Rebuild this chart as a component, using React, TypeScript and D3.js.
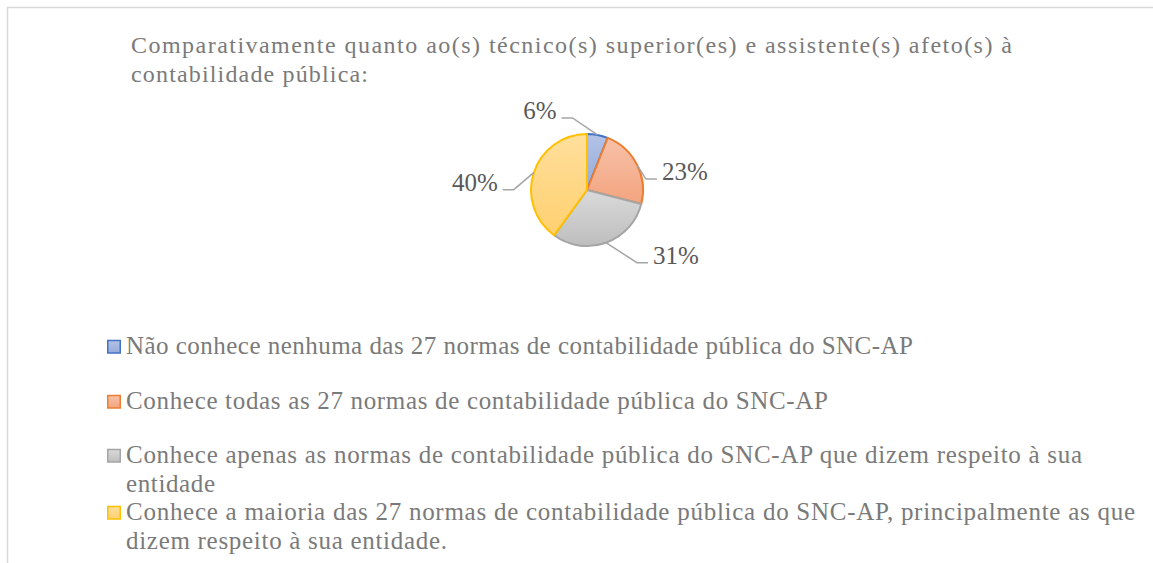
import React from 'react';
import * as d3 from 'd3';

const width = 1153;
const height = 563;

// chart data
const categories = [
  'Não conhece nenhuma das 27 normas de contabilidade pública do SNC-AP',
  'Conhece todas as 27 normas de contabilidade pública do SNC-AP',
  'Conhece apenas as normas de contabilidade pública do SNC-AP que dizem respeito à sua entidade',
  'Conhece a maioria das 27 normas de contabilidade pública do SNC-AP, principalmente as que dizem respeito à sua entidade.',
];
const values = [6, 23, 31, 40];
const titleLines = [
  'Comparativamente quanto ao(s) técnico(s) superior(es) e assistente(s) afeto(s) à',
  'contabilidade pública:',
];
// how the legend entries wrap in the picture
const legendLines = [
  [categories[0]],
  [categories[1]],
  ['Conhece apenas as normas de contabilidade pública do SNC-AP que dizem respeito à sua', 'entidade'],
  ['Conhece a maioria das 27 normas de contabilidade pública do SNC-AP, principalmente as que', 'dizem respeito à sua entidade.'],
];

const strokeColors = ['#4472C4', '#ED7D31', '#A5A5A5', '#FFC000'];
const fillTop = ['#b3c2e6', '#f7c1a9', '#dadada', '#ffdf9c'];
const fillBottom = ['#97acdb', '#f3a47f', '#bebebe', '#ffd070'];

const textColor = '#7a7a7a';
const labelColor = '#595959';

const cx = 587;
const cy = 190;
const radius = 56;

// label placement (elbow offset from slice edge, which side the text goes)
const labelOffsets = [
  { dx: -25, dy: -17, side: -1 },
  { dx: 9, dy: 14.5, side: 1 },
  { dx: 31, dy: 20, side: 1 },
  { dx: -20, dy: 17, side: -1 },
];

const pie = d3.pie<number>().sort(null).value(d => d);
const arcs = pie(values);
const arc = d3.arc<d3.PieArcDatum<number>>().innerRadius(0).outerRadius(radius);

// text is letter-spaced in the source, so lines are fitted to their measured widths
const titleX = 131;
const titleBaselines = [53, 82];
const titleWidths = [881, 237];

const legendX = 107;
const legendTextX = 126;
const legendBaselines = [354, 409, 463, 520];
const legendLineHeight = 28.5;
const legendWidths = [[787], [702], [956, 89], [1009, 321]];

const App = () => {
  return (
    <svg
      width={width}
      height={height}
      style={{ position: 'absolute', left: 0, top: 0, background: '#fff' }}
    >
      <style>{`.t { font-family: "Liberation Serif", "Times New Roman", Times, serif; }`}</style>
      <defs>
        {values.map((v, i) => (
          <linearGradient key={i} id={`grad${i}`} x1="0" y1="0" x2="0" y2="1">
            <stop offset="0%" stopColor={fillTop[i]} />
            <stop offset="100%" stopColor={fillBottom[i]} />
          </linearGradient>
        ))}
      </defs>

      <path d={`M7.5,${height} V7.5 H${width}`} fill="none" stroke="#d9d9d9" strokeWidth={1.5} />

      {titleLines.map((t, i) => (
        <text
          key={i}
          className="t"
          x={titleX}
          y={titleBaselines[i]}
          textLength={titleWidths[i]}
          fontSize={24}
          fill={textColor}
        >
          {t}
        </text>
      ))}

      <g transform={`translate(${cx},${cy})`}>
        {arcs.map((a, i) => (
          <path
            key={i}
            d={arc(a) || ''}
            fill={`url(#grad${i})`}
            stroke={strokeColors[i]}
            strokeWidth={2}
            strokeLinejoin="round"
          />
        ))}
      </g>

      {arcs.map((a, i) => {
        const mid = (a.startAngle + a.endAngle) / 2;
        const ex = cx + radius * Math.sin(mid);
        const ey = cy - radius * Math.cos(mid);
        const o = labelOffsets[i];
        const kx = ex + o.dx;
        const ky = ey + o.dy;
        const endX = kx + o.side * 11;
        return (
          <g key={i}>
            <polyline
              points={`${ex},${ey} ${kx},${ky} ${endX},${ky}`}
              fill="none"
              stroke="#a6a6a6"
              strokeWidth={1.5}
            />
            <text
              className="t"
              x={endX + o.side * 5}
              y={ky + 1}
              textAnchor={o.side < 0 ? 'end' : 'start'}
              fontSize={25}
              fill={labelColor}
            >
              {`${values[i]}%`}
            </text>
          </g>
        );
      })}

      {legendLines.map((lines, i) => (
        <g key={i}>
          <rect
            x={legendX + 0.75}
            y={legendBaselines[i] - 13.5}
            width={12.5}
            height={12.5}
            fill={`url(#grad${i})`}
            stroke={strokeColors[i]}
            strokeWidth={1.5}
          />
          {lines.map((l, j) => (
            <text
              key={j}
              className="t"
              x={legendTextX}
              y={legendBaselines[i] + j * legendLineHeight}
              textLength={legendWidths[i][j]}
              fontSize={25}
              fill={textColor}
            >
              {l}
            </text>
          ))}
        </g>
      ))}
    </svg>
  );
};

export default App;
